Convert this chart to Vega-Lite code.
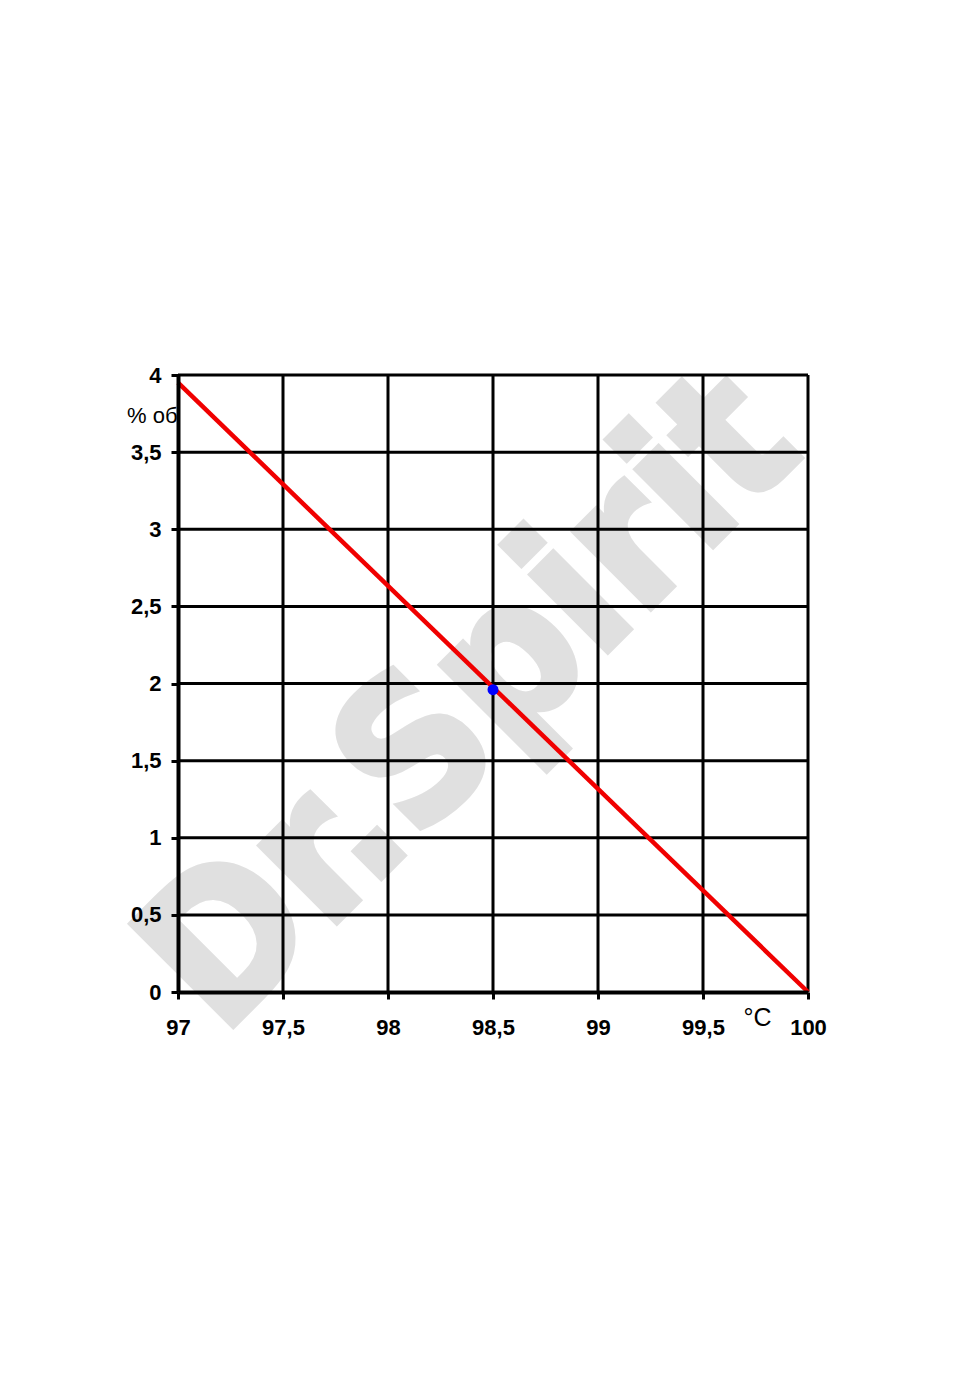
{
  "$schema": "https://vega.github.io/schema/vega-lite/v6.json",
  "autosize": "none",
  "width": 630,
  "height": 617,
  "padding": {"left": 178, "top": 375, "right": 172, "bottom": 395},
  "background": "white",
  "config": {"view": {"stroke": null}, "font": "Liberation Sans"},
  "datasets": {
    "curve": [{"t": 97, "v": 3.95}, {"t": 100, "v": 0}],
    "point": [{"t": 98.5, "v": 1.96}],
    "vgrid": [{"t": 97.5}, {"t": 98}, {"t": 98.5}, {"t": 99}, {"t": 99.5}, {"t": 100}],
    "hgrid": [{"v": 0.5}, {"v": 1}, {"v": 1.5}, {"v": 2}, {"v": 2.5}, {"v": 3}, {"v": 3.5}, {"v": 4}],
    "mark": [{"t": 98.4, "v": 1.87, "label": "Dr.Spirit"}]
  },
  "layer": [
    {
      "data": {"name": "mark"},
      "mark": {"type": "text", "angle": 315, "font": "DejaVu Sans Condensed", "fontWeight": "bold", "fontSize": 198, "color": "#e0e0e0", "stroke": "#e0e0e0", "strokeWidth": 6, "strokeJoin": "miter", "align": "center", "baseline": "middle"},
      "encoding": {
        "x": {
          "field": "t", "type": "quantitative",
          "scale": {"domain": [97, 100], "nice": false, "zero": false},
          "axis": {
            "values": [97, 97.5, 98, 98.5, 99, 99.5, 100],
            "labelExpr": "replace(toString(datum.value), '.', ',')",
            "grid": false, "zindex": 1,
            "domainColor": "black", "domainWidth": 4,
            "tickColor": "black", "tickWidth": 3, "tickSize": 7,
            "labelFont": "Liberation Sans", "labelFontWeight": "bold", "labelFontSize": 22, "labelColor": "black",
            "labelPadding": 18, "labelFlush": false,
            "title": "°C", "titleFont": "Liberation Sans", "titleFontWeight": "normal", "titleFontSize": 25, "titleColor": "black",
            "titleX": 579, "titleY": 25, "titleAnchor": null, "titleAlign": "center", "titleBaseline": "middle"
          }
        },
        "y": {
          "field": "v", "type": "quantitative",
          "scale": {"domain": [0, 4], "nice": false},
          "axis": {
            "values": [0, 0.5, 1, 1.5, 2, 2.5, 3, 3.5, 4],
            "labelExpr": "replace(toString(datum.value), '.', ',')",
            "grid": false, "zindex": 1,
            "domainColor": "black", "domainWidth": 4,
            "tickColor": "black", "tickWidth": 3, "tickSize": 7,
            "labelFont": "Liberation Sans", "labelFontWeight": "bold", "labelFontSize": 22, "labelColor": "black",
            "labelPadding": 10, "labelFlush": false,
            "title": "% об", "titleFont": "Liberation Sans", "titleFontWeight": "normal", "titleFontSize": 22, "titleColor": "black",
            "titleAngle": 0, "titleX": -1, "titleY": 40, "titleAlign": "right", "titleBaseline": "middle"
          }
        },
        "text": {"field": "label"}
      }
    },
    {
      "data": {"name": "vgrid"},
      "mark": {"type": "rule", "color": "black", "strokeWidth": 3},
      "encoding": {
        "x": {"field": "t", "type": "quantitative"},
        "y": {"datum": 0, "type": "quantitative"},
        "y2": {"datum": 4}
      }
    },
    {
      "data": {"name": "hgrid"},
      "mark": {"type": "rule", "color": "black", "strokeWidth": 3},
      "encoding": {
        "y": {"field": "v", "type": "quantitative"},
        "x": {"datum": 97, "type": "quantitative"},
        "x2": {"datum": 100}
      }
    },
    {
      "data": {"name": "curve"},
      "mark": {"type": "line", "color": "#f00000", "strokeWidth": 4.5},
      "encoding": {
        "x": {"field": "t", "type": "quantitative"},
        "y": {"field": "v", "type": "quantitative"}
      }
    },
    {
      "data": {"name": "point"},
      "mark": {"type": "point", "filled": true, "color": "#0000ff", "size": 120, "opacity": 1},
      "encoding": {
        "x": {"field": "t", "type": "quantitative"},
        "y": {"field": "v", "type": "quantitative"}
      }
    }
  ]
}
